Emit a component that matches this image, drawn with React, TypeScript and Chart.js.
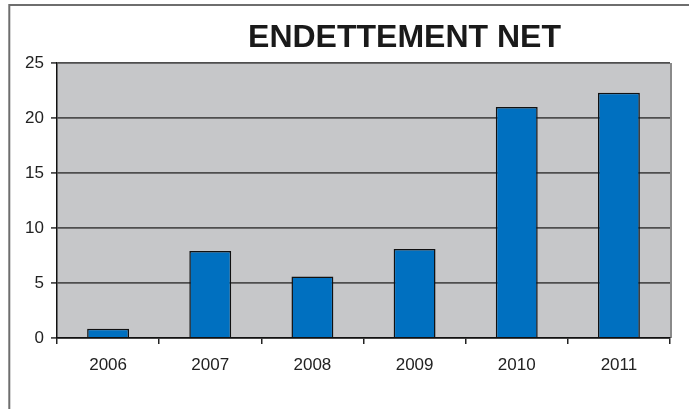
import React, { useEffect, useRef } from "react";
import { Chart, registerables } from "chart.js";

Chart.register(...registerables);

const categories = ["2006", "2007", "2008", "2009", "2010", "2011"];
const values = [0.85, 7.9, 5.6, 8.1, 21.0, 22.3];
const yTicks = [0, 5, 10, 15, 20, 25];
const titleText = "ENDETTEMENT NET";

const decorPlugin = {
  id: "decor",
  beforeDraw(chart: any) {
    const { ctx, chartArea } = chart;
    ctx.save();
    ctx.fillStyle = "#ffffff";
    ctx.fillRect(0, 0, chart.width, chart.height);
    // outer frame (top + left)
    ctx.strokeStyle = "#6e6e6e";
    ctx.lineWidth = 2;
    ctx.beginPath();
    ctx.moveTo(9.3, chart.height);
    ctx.lineTo(9.3, 5);
    ctx.lineTo(chart.width, 5);
    ctx.stroke();
    // plot background
    ctx.fillStyle = "#C6C7C9";
    ctx.fillRect(chartArea.left, chartArea.top, chartArea.right - chartArea.left, chartArea.bottom - chartArea.top);
    // right border
    ctx.strokeStyle = "#8a8a8a";
    ctx.lineWidth = 2;
    ctx.beginPath();
    ctx.moveTo(chartArea.right + 1, chartArea.top);
    ctx.lineTo(chartArea.right + 1, chartArea.bottom);
    ctx.stroke();
    // title
    ctx.fillStyle = "#1a1a1a";
    ctx.font = "bold 32px 'Liberation Sans', Arial, sans-serif";
    ctx.textAlign = "center";
    ctx.textBaseline = "alphabetic";
    ctx.fillText(titleText, 404.5, 47);
    ctx.restore();
  },
};

export default function App() {
  const ref = useRef<HTMLCanvasElement>(null);
  useEffect(() => {
    if (!ref.current) return;
    const chart = new Chart(ref.current, {
      type: "bar",
      data: {
        labels: categories,
        datasets: [
          {
            data: values,
            backgroundColor: "#0070C0",
            borderColor: "#111111",
            borderWidth: 1.5,
            barPercentage: 0.41,
            categoryPercentage: 1,
          },
        ],
      },
      options: {
        animation: false,
        responsive: false,
        devicePixelRatio: 1,
        layout: { padding: { left: 0, top: 63, right: 19, bottom: 0 } },
        plugins: {
          legend: { display: false },
          title: { display: false },
          tooltip: { enabled: false },
        },
        scales: {
          x: {
            offset: true,
            grid: {
              offset: true,
              drawOnChartArea: false,
              drawTicks: true,
              tickLength: 6,
              color: "#222222",
              lineWidth: 1.5,
            },
            border: { display: true, color: "#111111", width: 1.5 },
            ticks: {
              color: "#222222",
              padding: 11,
              font: { family: "'Liberation Sans', Arial, sans-serif", size: 17 },
            },
            afterFit(scale: any) {
              scale.height = 71;
            },
          },
          y: {
            min: 0,
            max: 25,
            afterBuildTicks(scale: any) {
              scale.ticks = yTicks.map((v) => ({ value: v }));
            },
            grid: {
              color: "#4e4e4e",
              lineWidth: 1.8,
              drawTicks: true,
              tickLength: 6,
            },
            border: { display: true, color: "#111111", width: 1.5 },
            ticks: {
              color: "#222222",
              padding: 7,
              font: { family: "'Liberation Sans', Arial, sans-serif", size: 17 },
            },
            afterFit(scale: any) {
              scale.width = 57;
            },
          },
        },
      },
      plugins: [decorPlugin],
    });
    return () => chart.destroy();
  }, []);
  return (
    <div style={{ position: "absolute", left: 0, top: 0, width: 689, height: 409 }}>
      <canvas ref={ref} width={689} height={409} style={{ display: "block" }} />
    </div>
  );
}
